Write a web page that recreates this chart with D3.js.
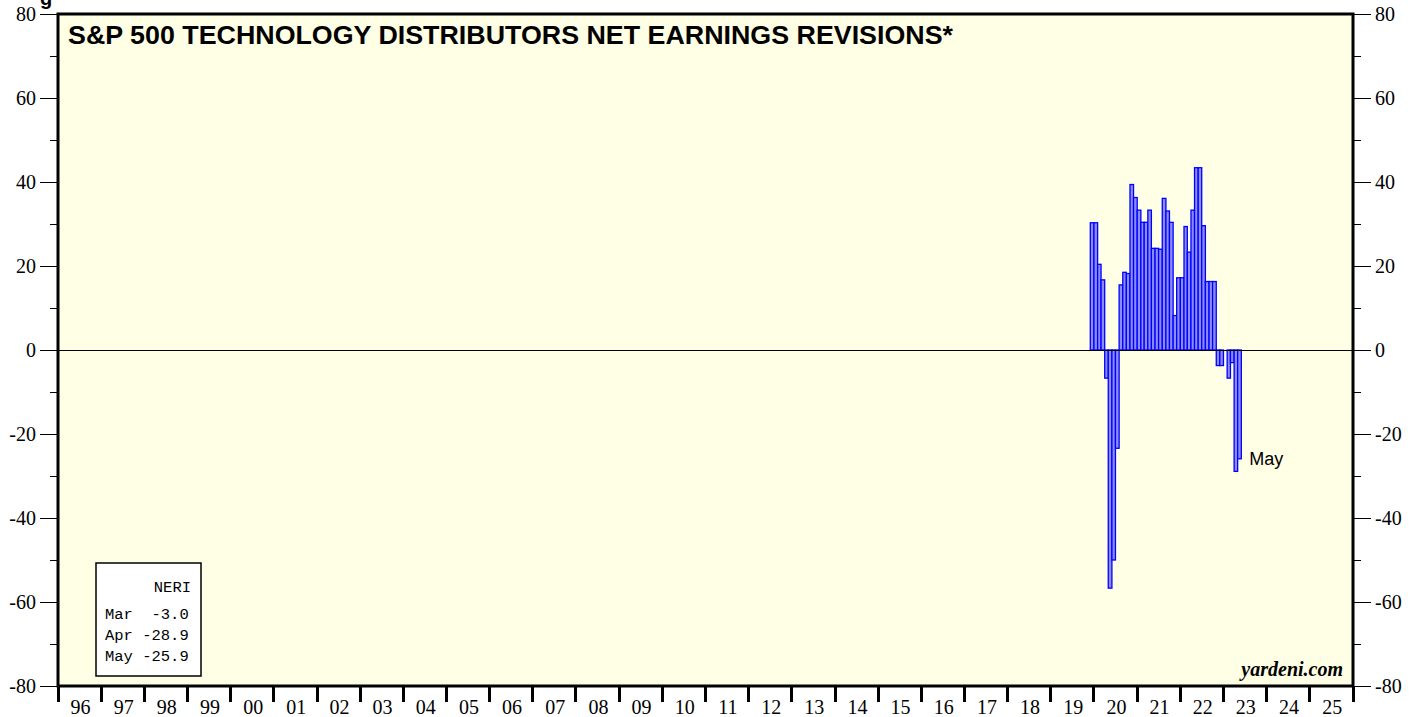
<!DOCTYPE html>
<html>
<head>
<meta charset="utf-8">
<script src="https://cdnjs.cloudflare.com/ajax/libs/d3/7.8.5/d3.min.js"></script>
<style>
  body { margin: 0; background: #fff; }
  svg { display: block; }
  .axis text { font-family: "Liberation Serif", "Times New Roman", serif; font-size: 20px; fill: #000; }
  .axis line { shape-rendering: crispEdges; }
</style>
</head>
<body>
<svg id="chart" width="1419" height="717"></svg>
<script>
// monthly net earnings revisions, first value is Dec 2019
var firstMonth = "2019-12";
var neri = [
    30.3,                                                   // 2019 Dec
    30.3, 20.4, 16.7, -6.7, -56.7, -50.0, -23.4, 15.5, 18.5, 18.2, 39.4, 36.3,   // 2020
    33.3, 30.4, 30.4, 33.3, 24.2, 24.2, 24.0, 36.1, 33.1, 30.4, 8.2, 17.2,       // 2021
    17.2, 29.4, 23.3, 33.3, 43.4, 43.4, 29.6, 16.3, 16.3, 16.3, -3.7, -3.7,      // 2022
    0.0, -6.7, -3.0, -28.9, -25.9                                               // 2023
];

// x axis years and y axis ticks
var years = d3.range(1996, 2026);
var yMajor = [-80, -60, -40, -20, 0, 20, 40, 60, 80];
var yMinor = [-70, -50, -30, -10, 10, 30, 50, 70];

// legend rows
var legendRows = [["Mar", "-3.0"], ["Apr", "-28.9"], ["May", "-25.9"]];

window.onload = function()
{
    const MARGIN = {top: 14, right: 66, bottom: 31, left: 58},
          W = 1419, H = 717;

    var svg = d3.select("#chart");

    var xScale = d3.scaleTime()
                   .domain([new Date(1996, 0, 1), new Date(2026, 0, 1)])
                   .range([MARGIN.left, W - MARGIN.right]),
        yScale = d3.scaleLinear()
                   .domain([-80, 80])
                   .range([H - MARGIN.bottom, MARGIN.top]);

    var x0 = xScale.range()[0], x1 = xScale.range()[1],
        yTop = yScale(80), yBot = yScale(-80);

    // cut off text above the chart
    svg.append("text")
       .attr("x", 40).attr("y", 5)
       .style("font-family", "Liberation Sans, Arial, sans-serif")
       .style("font-weight", "bold").style("font-size", "20px")
       .text("g");

    // plot background
    svg.append("rect")
       .attr("x", x0).attr("y", yTop)
       .attr("width", x1 - x0).attr("height", yBot - yTop)
       .attr("fill", "#ffffe5");

    // bars
    var start = d3.timeParse("%Y-%m")(firstMonth);
    var bars = neri.map((v, i) => ({ date: d3.timeMonth.offset(start, i), value: v }));

    svg.append("g")
       .selectAll("rect")
       .data(bars.filter(d => d.value != 0))
       .enter()
       .append("rect")
       .attr("x", d => xScale(d.date))
       .attr("width", d => xScale(d3.timeMonth.offset(d.date, 1)) - xScale(d.date))
       .attr("y", d => yScale(Math.max(0, d.value)))
       .attr("height", d => Math.abs(yScale(d.value) - yScale(0)))
       .attr("fill", "#8c8cff")
       .attr("stroke", "#0000ff")
       .attr("stroke-width", 1.3);

    // zero line
    svg.append("line")
       .attr("x1", x0).attr("x2", x1)
       .attr("y1", yScale(0) + 0.5).attr("y2", yScale(0) + 0.5)
       .attr("stroke", "#000").attr("stroke-width", 1);

    // y axes, left and right
    var left = svg.append("g").attr("class", "axis");
    var right = svg.append("g").attr("class", "axis");

    yMajor.forEach(v => {
        left.append("line").attr("x1", x0 - 18).attr("x2", x0)
            .attr("y1", yScale(v)).attr("y2", yScale(v)).attr("stroke", "#000");
        right.append("line").attr("x1", x1).attr("x2", x1 + 18)
            .attr("y1", yScale(v)).attr("y2", yScale(v)).attr("stroke", "#000");
        left.append("text").attr("x", x0 - 22).attr("y", yScale(v))
            .attr("dy", "0.35em").attr("text-anchor", "end").text(v);
        right.append("text").attr("x", x1 + 22).attr("y", yScale(v))
            .attr("dy", "0.35em").text(v);
    });
    yMinor.forEach(v => {
        left.append("line").attr("x1", x0 - 8).attr("x2", x0)
            .attr("y1", yScale(v)).attr("y2", yScale(v)).attr("stroke", "#000");
        right.append("line").attr("x1", x1).attr("x2", x1 + 8)
            .attr("y1", yScale(v)).attr("y2", yScale(v)).attr("stroke", "#000");
    });

    // x axis: ticks at year starts, labels in the middle of the year
    var bottom = svg.append("g").attr("class", "axis");
    years.concat([2026]).forEach(yr => {
        var x = xScale(new Date(yr, 0, 1));
        bottom.append("line").attr("x1", x).attr("x2", x)
              .attr("y1", yBot).attr("y2", yBot + 16)
              .attr("stroke", "#000").attr("stroke-width", 3);
    });
    years.forEach(yr => {
        bottom.append("text")
              .attr("x", xScale(new Date(yr, 6, 1)) + 1)
              .attr("y", yBot + 28)
              .attr("text-anchor", "middle")
              .text(d3.format("02")(yr % 100));
    });

    // plot frame
    svg.append("rect")
       .attr("x", x0).attr("y", yTop)
       .attr("width", x1 - x0).attr("height", yBot - yTop)
       .attr("fill", "none").attr("stroke", "#000").attr("stroke-width", 3);

    // title
    svg.append("text")
       .attr("x", 68).attr("y", 44)
       .attr("textLength", 885).attr("lengthAdjust", "spacingAndGlyphs")
       .style("font-family", "Liberation Sans, Arial, sans-serif")
       .style("font-weight", "bold").style("font-size", "25px")
       .text("S&P 500 TECHNOLOGY DISTRIBUTORS NET EARNINGS REVISIONS*");

    // latest month label
    var last = bars[bars.length - 1];
    svg.append("text")
       .attr("x", xScale(d3.timeMonth.offset(last.date, 1)) + 8)
       .attr("y", yScale(last.value) + 6)
       .style("font-family", "Liberation Sans, Arial, sans-serif")
       .style("font-size", "18px")
       .text("May");

    // source
    svg.append("text")
       .attr("x", x1 - 10).attr("y", yBot - 10)
       .attr("text-anchor", "end")
       .style("font-family", "Liberation Serif, Times New Roman, serif")
       .style("font-weight", "bold").style("font-style", "italic")
       .style("font-size", "20px")
       .text("yardeni.com");

    // legend box
    var lg = svg.append("g").attr("transform", "translate(96,563)");
    lg.append("rect").attr("width", 105).attr("height", 113)
      .attr("fill", "#fff").attr("stroke", "#000").attr("stroke-width", 1.5);
    var mono = "Liberation Mono, Courier New, monospace";
    lg.append("text").attr("x", 95).attr("y", 29).attr("text-anchor", "end")
      .style("font-family", mono).style("font-size", "15.5px").text("NERI");
    legendRows.forEach((r, i) => {
        lg.append("text").attr("x", 9).attr("y", 56 + i * 21)
          .attr("xml:space", "preserve")
          .style("font-family", mono).style("font-size", "15.5px")
          .style("white-space", "pre")
          .text(r[0] + (" " + r[1]).padStart(6, " "));
    });
}
</script>
</body>
</html>
